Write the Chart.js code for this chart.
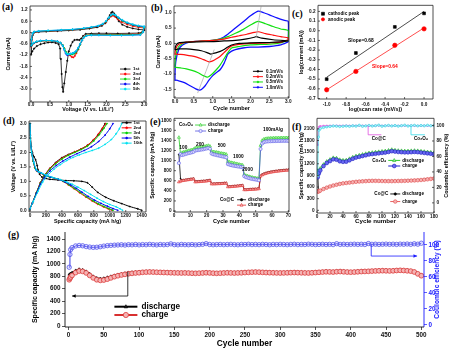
<!DOCTYPE html>
<html><head><meta charset="utf-8">
<script src="https://cdn.jsdelivr.net/npm/chart.js@4.4.1/dist/chart.umd.min.js"></script>
<style>
html,body{margin:0;padding:0;background:#fff;}
#wrap{position:relative;width:457px;height:353px;overflow:hidden;background:#fff;}
.pl{position:absolute;font:bold 9.5px "Liberation Serif",serif;line-height:1;color:#000;}
</style></head><body>
<div id="wrap">
<div class="pl" style="left:2px;top:3px">(a)</div>
<div class="pl" style="left:151px;top:4px">(b)</div>
<div class="pl" style="left:292px;top:10px">(c)</div>
<div class="pl" style="left:3px;top:117px">(d)</div>
<div class="pl" style="left:150px;top:118px">(e)</div>
<div class="pl" style="left:292px;top:123px">(f)</div>
<div class="pl" style="left:8px;top:231px">(g)</div>
</div>
<script>
// ---------------- DATA ----------------
// (a) CV cycles: [voltage, current]
const cvA1=[[3.0,0.12],[2.95,0.02],[2.85,-0.03],[2.6,-0.04],[2.3,-0.05],[2.0,-0.04],[1.8,-0.04],[1.6,-0.05],[1.45,-0.07],[1.38,-0.18],[1.33,-0.32],[1.28,-0.4],[1.22,-0.38],[1.15,-0.4],[1.1,-0.5],[1.05,-0.7],[1.0,-1.0],[0.96,-1.5],[0.92,-2.1],[0.88,-2.7],[0.85,-3.15],[0.83,-2.9],[0.81,-2.2],[0.79,-1.4],[0.77,-0.85],[0.73,-0.62],[0.65,-0.55],[0.55,-0.52],[0.45,-0.53],[0.35,-0.57],[0.25,-0.62],[0.15,-0.72],[0.08,-0.85],[0.03,-1.0],[0.0,-1.15],
[0.01,-0.6],[0.04,-0.15],[0.08,0.0],[0.2,0.03],[0.4,0.05],[0.7,0.08],[1.0,0.11],[1.3,0.15],[1.55,0.21],[1.75,0.28],[1.88,0.36],[1.97,0.5],[2.04,0.72],[2.09,0.92],[2.13,1.06],[2.16,1.1],[2.2,1.02],[2.26,0.82],[2.33,0.6],[2.42,0.42],[2.55,0.3],[2.7,0.22],[2.85,0.17],[3.0,0.14]];
const cvA2=[[3.0,0.22],[2.96,0.02],[2.9,-0.07],[2.7,-0.09],[2.4,-0.1],[2.1,-0.1],[1.8,-0.1],[1.6,-0.11],[1.47,-0.14],[1.4,-0.22],[1.35,-0.38],[1.3,-0.62],[1.25,-0.9],[1.2,-1.1],[1.16,-1.24],[1.12,-1.32],[1.08,-1.3],[1.04,-1.22],[1.0,-1.17],[0.96,-1.14],[0.92,-1.05],[0.88,-0.85],[0.84,-0.68],[0.78,-0.56],[0.7,-0.49],[0.55,-0.45],[0.4,-0.44],[0.25,-0.46],[0.15,-0.5],[0.07,-0.58],[0.02,-0.68],[0.0,-0.75],
[0.01,-0.4],[0.04,-0.08],[0.08,0.02],[0.2,0.05],[0.45,0.08],[0.8,0.11],[1.1,0.14],[1.4,0.2],[1.6,0.26],[1.78,0.33],[1.9,0.42],[1.99,0.55],[2.06,0.72],[2.12,0.85],[2.17,0.9],[2.22,0.85],[2.3,0.7],[2.4,0.56],[2.55,0.43],[2.7,0.34],[2.85,0.28],[3.0,0.24]];
const cvA3=[[3.0,0.26],[2.96,0.02],[2.9,-0.09],[2.7,-0.11],[2.4,-0.12],[2.1,-0.12],[1.8,-0.12],[1.6,-0.12],[1.47,-0.15],[1.4,-0.25],[1.35,-0.42],[1.3,-0.65],[1.25,-0.88],[1.2,-1.04],[1.15,-1.12],[1.1,-1.15],[1.05,-1.16],[1.0,-1.16],[0.96,-1.12],[0.92,-1.02],[0.88,-0.84],[0.84,-0.67],[0.78,-0.55],[0.7,-0.48],[0.55,-0.44],[0.4,-0.43],[0.25,-0.45],[0.15,-0.49],[0.07,-0.56],[0.02,-0.65],[0.0,-0.72],
[0.01,-0.38],[0.04,-0.06],[0.08,0.03],[0.2,0.06],[0.45,0.09],[0.8,0.12],[1.1,0.15],[1.4,0.21],[1.6,0.27],[1.78,0.34],[1.9,0.44],[1.99,0.58],[2.06,0.76],[2.12,0.9],[2.18,0.96],[2.24,0.9],[2.32,0.76],[2.42,0.62],[2.55,0.5],[2.7,0.4],[2.85,0.33],[3.0,0.28]];
const cvA4=[[3.0,0.3],[2.97,0.02],[2.9,-0.12],[2.7,-0.14],[2.4,-0.15],[2.1,-0.15],[1.8,-0.14],[1.6,-0.14],[1.47,-0.17],[1.4,-0.27],[1.35,-0.42],[1.3,-0.62],[1.25,-0.82],[1.2,-0.98],[1.15,-1.06],[1.1,-1.1],[1.05,-1.12],[1.0,-1.16],[0.96,-1.2],[0.92,-1.12],[0.88,-0.92],[0.84,-0.7],[0.78,-0.55],[0.7,-0.47],[0.55,-0.43],[0.4,-0.42],[0.25,-0.44],[0.15,-0.48],[0.07,-0.55],[0.02,-0.63],[0.0,-0.7],
[0.01,-0.36],[0.04,-0.05],[0.08,0.04],[0.2,0.07],[0.45,0.1],[0.8,0.13],[1.1,0.16],[1.4,0.22],[1.6,0.28],[1.78,0.35],[1.9,0.45],[1.99,0.6],[2.06,0.78],[2.12,0.92],[2.18,0.97],[2.24,0.92],[2.32,0.79],[2.42,0.65],[2.55,0.52],[2.7,0.42],[2.85,0.35],[3.0,0.31]];
const cvA5=[[3.0,0.3],[2.97,0.02],[2.9,-0.12],[2.7,-0.14],[2.4,-0.15],[2.1,-0.15],[1.8,-0.14],[1.6,-0.14],[1.47,-0.17],[1.4,-0.26],[1.35,-0.4],[1.3,-0.6],[1.25,-0.8],[1.2,-0.96],[1.15,-1.05],[1.1,-1.1],[1.05,-1.13],[1.0,-1.15],[0.96,-1.15],[0.92,-1.08],[0.88,-0.9],[0.84,-0.7],[0.78,-0.55],[0.7,-0.47],[0.55,-0.43],[0.4,-0.42],[0.25,-0.44],[0.15,-0.47],[0.07,-0.54],[0.02,-0.62],[0.0,-0.68],
[0.01,-0.34],[0.04,-0.04],[0.08,0.05],[0.2,0.08],[0.45,0.11],[0.8,0.14],[1.1,0.17],[1.4,0.23],[1.6,0.29],[1.78,0.36],[1.9,0.46],[1.99,0.61],[2.06,0.79],[2.12,0.93],[2.18,0.98],[2.24,0.93],[2.32,0.8],[2.42,0.67],[2.55,0.54],[2.7,0.44],[2.85,0.37],[3.0,0.33]];
const aXTicks=[0,0.5,1,1.5,2,2.5,3];
const aYTicks=[-3.0,-2.4,-1.8,-1.2,-0.6,0,0.6,1.2];

// (b) CV at scan rates
const cvB01=[[3.0,0.08],[2.8,0.05],[2.5,0.03],[2.0,0.02],[1.7,0.0],[1.5,-0.05],[1.4,-0.12],[1.3,-0.2],[1.2,-0.26],[1.1,-0.3],[1.0,-0.33],[0.95,-0.35],[0.85,-0.3],[0.7,-0.24],[0.5,-0.2],[0.3,-0.18],[0.1,-0.18],[0.03,-0.2],[0.0,-0.2],[0.03,-0.05],[0.1,0.02],[0.3,0.04],[0.6,0.05],[1.0,0.06],[1.3,0.08],[1.6,0.1],[1.9,0.15],[2.1,0.2],[2.15,0.22],[2.3,0.17],[2.6,0.12],[3.0,0.08]];
const cvB02=[[3.0,0.12],[2.8,0.04],[2.5,0.02],[2.0,0.0],[1.7,-0.03],[1.5,-0.08],[1.4,-0.18],[1.3,-0.3],[1.2,-0.42],[1.1,-0.5],[1.0,-0.57],[0.9,-0.6],[0.8,-0.55],[0.7,-0.5],[0.5,-0.42],[0.3,-0.38],[0.15,-0.36],[0.03,-0.35],[0.0,-0.35],[0.03,-0.15],[0.1,-0.03],[0.3,0.04],[0.6,0.07],[1.0,0.1],[1.3,0.14],[1.5,0.2],[1.7,0.25],[1.9,0.3],[2.1,0.36],[2.2,0.38],[2.4,0.32],[2.6,0.27],[2.8,0.22],[3.0,0.18],[3.0,0.12]];
const cvB05=[[3.0,0.1],[2.8,0.02],[2.5,-0.02],[2.0,-0.05],[1.7,-0.1],[1.5,-0.15],[1.4,-0.3],[1.3,-0.5],[1.2,-0.7],[1.1,-0.85],[1.0,-0.98],[0.9,-1.08],[0.85,-1.1],[0.75,-1.05],[0.6,-0.95],[0.45,-0.88],[0.3,-0.83],[0.15,-0.8],[0.03,-0.78],[0.0,-0.78],[0.02,-0.4],[0.1,-0.1],[0.25,0.02],[0.5,0.06],[0.8,0.08],[1.0,0.1],[1.2,0.14],[1.4,0.22],[1.6,0.33],[1.8,0.45],[2.0,0.6],[2.2,0.72],[2.4,0.64],[2.6,0.55],[2.8,0.47],[3.0,0.42],[3.0,0.1]];
const cvB10=[[3.0,0.05],[2.8,-0.05],[2.5,-0.1],[2.2,-0.12],[2.0,-0.12],[1.8,-0.15],[1.6,-0.2],[1.5,-0.25],[1.4,-0.35],[1.35,-0.5],[1.3,-0.65],[1.2,-0.85],[1.1,-0.95],[1.0,-1.05],[0.9,-1.2],[0.8,-1.38],[0.7,-1.5],[0.65,-1.52],[0.55,-1.48],[0.4,-1.38],[0.25,-1.28],[0.1,-1.22],[0.02,-1.2],[0.0,-1.2],[0.02,-0.6],[0.1,-0.2],[0.2,-0.05],[0.4,0.05],[0.7,0.08],[1.0,0.1],[1.2,0.15],[1.4,0.3],[1.6,0.5],[1.8,0.7],[2.0,0.9],[2.2,1.05],[2.35,1.0],[2.5,0.93],[2.7,0.83],[2.9,0.75],[3.0,0.72],[3.0,0.05]];
const guideB1=[[0.6,-1.62],[1.04,-0.2]];
const guideB2=[[2.15,0.18],[2.28,1.2]];
const bXTicks=[0,0.5,1,1.5,2,2.5,3];
const bYTicks=[-1.5,-1.0,-0.5,0,0.5,1.0];

// (c) log-log
const cLogRate=[-1.0,-0.7,-0.3,0.0];
const cCathodic=[-0.50,-0.23,0.04,0.18];
const cAnodic=[-0.61,-0.42,-0.15,0.02];
const cCathFit=[[-1.0,-0.48],[0.0,0.20]];
const cAnodFit=[[-1.0,-0.61],[0.0,0.03]];
const cXTicks=[-1.0,-0.8,-0.6,-0.4,-0.2,0.0];
const cYTicks=[-0.7,-0.6,-0.5,-0.4,-0.3,-0.2,-0.1,0.0,0.1,0.2];

// (d) charge/discharge profiles [capacity, voltage]
const dDis1=[[0,3.0],[5,2.6],[15,2.2],[30,2.0],[50,1.85],[70,1.75],[90,1.55],[100,1.4],[120,1.25],[150,1.15],[200,1.1],[250,1.07],[350,1.05],[450,1.03],[550,1.02],[650,1.0],[720,0.95],[780,0.8],[850,0.62],[950,0.45],[1050,0.33],[1150,0.23],[1250,0.13],[1350,0.05],[1400,0.0]];
const dDis2=[[0,3.0],[5,2.5],[20,2.0],[40,1.7],[60,1.48],[85,1.36],[125,1.3],[175,1.22],[245,1.15],[345,1.08],[415,1.0],[480,0.88],[550,0.75],[620,0.61],[700,0.46],[780,0.32],[850,0.21],[920,0.12],[980,0.05],[1030,0.0]];
const dDis3=[[0,3.0],[5,2.5],[20,2.0],[40,1.7],[65,1.45],[90,1.36],[130,1.3],[180,1.22],[250,1.15],[350,1.08],[420,1.0],[490,0.88],[560,0.75],[630,0.62],[710,0.47],[790,0.33],[860,0.22],[930,0.13],[990,0.06],[1040,0.0]];
const dDis5=[[0,3.0],[5,2.5],[20,2.0],[45,1.68],[75,1.4],[100,1.34],[140,1.29],[190,1.22],[260,1.15],[360,1.07],[440,0.98],[510,0.88],[580,0.76],[650,0.63],[730,0.48],[810,0.35],[890,0.24],[970,0.14],[1040,0.06],[1100,0.0]];
const dDis10=[[0,3.0],[5,2.5],[20,2.0],[50,1.65],[80,1.4],[110,1.33],[150,1.28],[200,1.22],[280,1.14],[380,1.06],[460,0.98],[530,0.9],[600,0.8],[680,0.68],[760,0.55],[840,0.42],[920,0.3],[1000,0.2],[1080,0.12],[1130,0.05],[1160,0.0]];
const dChg1=[[0,0.05],[30,0.25],[80,0.6],[130,0.95],[180,1.2],[250,1.45],[320,1.65],[400,1.82],[480,1.93],[560,2.02],[640,2.12],[720,2.25],[790,2.42],[850,2.6],[900,2.8],[940,3.0]];
const dChg2=[[0,0.05],[30,0.25],[80,0.6],[130,0.95],[180,1.2],[250,1.45],[320,1.63],[400,1.8],[480,1.92],[560,2.02],[640,2.12],[720,2.25],[800,2.45],[860,2.65],[910,2.85],[950,3.0]];
const dChg3=[[0,0.05],[30,0.25],[80,0.6],[130,0.93],[180,1.18],[250,1.42],[320,1.6],[400,1.77],[480,1.9],[560,2.0],[640,2.1],[720,2.22],[800,2.4],[870,2.62],[925,2.83],[965,3.0]];
const dChg5=[[0,0.05],[30,0.25],[80,0.58],[130,0.9],[180,1.13],[250,1.36],[330,1.55],[410,1.7],[500,1.84],[590,1.96],[680,2.07],[770,2.2],[860,2.38],[940,2.6],[1000,2.82],[1040,3.0]];
const dChg10=[[0,0.05],[40,0.3],[100,0.65],[160,0.98],[220,1.2],[300,1.42],[380,1.58],[460,1.72],[540,1.83],[620,1.92],[700,2.0],[780,2.07],[860,2.15],[940,2.28],[1020,2.45],[1080,2.65],[1120,2.82],[1150,3.0]];
const dXTicks=[0,200,400,600,800,1000,1200,1400];
const dYTicks=[0,0.5,1.0,1.5,2.0,2.5,3.0];

// (e) rate capability
const eCycles=[3,4,5,6,7,8,9,10,11,12,13,14,15,16,17,18,19,20,21,22,23,24,25,26,27,28,29,30,31,32,33,34,35,36,37,38,39,40,41,42,43,44,45,46,47,48,49,50,51,52,53,54,55,56,57,58,59,60,61,62,63,64,65,66,67,68,69,70];
const eCo3O4Dis=[1460,1120,1160,1170,1180,1190,1200,1205,1215,1225,
1250,1255,1260,1265,1270,1275,1285,1290,1300,1285,
1185,1175,1170,1165,1160,1150,1145,1140,1135,1125,
980,970,962,955,948,940,932,925,918,910,
725,705,695,685,675,668,660,655,648,640,
1300,1400,1425,1435,1440,1442,1445,1445,1448,1448,
1450,1450,1450,1452,1452,1452,1452,1452];
const eCo3O4Chg=[950,1130,1110,1120,1130,1140,1150,1155,1165,1175,
1200,1205,1210,1215,1220,1225,1235,1240,1250,1235,
1140,1125,1118,1110,1102,1095,1088,1080,1072,1065,
930,918,910,902,895,890,885,880,875,868,
690,672,662,652,643,636,630,625,618,610,
1230,1340,1365,1375,1380,1382,1385,1385,1388,1388,
1390,1390,1390,1392,1392,1392,1392,1392];
const eCoCDis=[1120,640,615,620,625,630,635,640,645,650,
590,593,595,597,600,603,605,610,615,620,
548,548,549,551,553,553,555,558,561,563,
490,492,494,497,500,502,507,510,514,517,
432,432,434,436,438,440,442,444,448,452,
705,730,745,757,767,775,782,788,793,798,
802,806,810,813,816,819,822,825];
const eCoCChg=[575,590,600,605,610,615,620,625,630,635,
575,578,580,582,585,588,590,595,600,605,
535,535,536,538,540,540,542,545,548,550,
478,480,482,485,488,490,495,498,502,505,
420,420,422,424,426,428,430,432,436,440,
690,715,730,742,752,760,767,773,778,783,
787,791,795,798,801,804,807,810];
const eXTicks=[0,10,20,30,40,50,60,70];
const eYTicks=[0,200,400,600,800,1000,1200,1400,1600,1800];

// (f) cycling 180 cycles
const fCycles=[1,2,3,5,10,15,20,25,30,35,40,45,50,55,60,65,70,75,80,85,90,95,100,105,110,115,120,125,130,135,140,145,150,155,160,165,170,175,180];
const fCo3O4Dis=[980,1000,1020,1080, 1180,1260,1310,1355,1345,1305,1290,1295,1330,1370, 1400,1420,1440,1460,1480,1490,1500,1510,1520,1530, 1545,1565,1550,1540,1535,1530,1530,1535,1540,1535, 1525,1515,1505,1495,1485];
const fCo3O4Chg=[850,930,970,1030, 1140,1220,1270,1315,1305,1265,1250,1255,1290,1330, 1360,1380,1400,1420,1440,1450,1460,1470,1480,1490, 1505,1525,1515,1505,1500,1495,1495,1500,1505,1500, 1490,1480,1470,1460,1450];
const fCoCDis=[1050,520,500,520, 560,595,625,650,670,690,705,715,725,735, 745,752,758,763,768,770,770,768,765,763, 762,762,764,766,768,770,774,777,781,786, 792,800,810,820,830];
const fCoCChg=[480,495,490,510, 550,585,615,640,660,680,695,705,715,725, 735,742,748,753,758,760,760,758,755,753, 752,752,754,756,758,760,764,767,771,776, 782,790,800,810,820];
const fCoCCE=[75,95,98,99, 99.5,99.6,99.7,99.5,99.8,99.6,99.7,99.9,99.6,99.8, 99.7,99.9,99.8,99.6,99.9,99.7,99.8,100.0,99.7,99.8, 99.9,99.7,99.8,99.6,99.9,99.8,99.7,99.9,99.8,99.6, 99.8,99.9,99.7,99.8,99.9];
const fCo3O4CE=[35,85,94,96, 97.5,98.2,98.8,99.4,99.1,98.7,99.0,99.3,98.9,99.6, 99.2,100.3,99.0,99.5,100.1,99.3,99.8,100.5,99.1,99.6, 100.2,99.4,100.0,99.2,99.8,100.4,99.3,99.9,100.2,99.5, 100.0,99.6,100.3,99.7,100.1];
const fXTicks=[0,20,40,60,80,100,120,140,160,180];
const fYTicks=[0,300,600,900,1200,1500,1800,2100];
const fY2Ticks=[0,20,40,60,80,100];

// (g) long cycling 500 cycles
const gCycles=[1,2,3,5,10,15,20,25,30,35,40,45,50,55,60,65,70,75,80,85,90,95,100,105,110,115,120,125,130,135,140,145,150,155,160,165,170,175,180,185,190,195,200,205,210,215,220,225,230,235,240,245,250,255,260,265,270,275,280,285,290,295,300,305,310,315,320,325,330,335,340,345,350,355,360,365,370,375,380,385,390,395,400,405,410,415,420,425,430,435,440,445,450,455,460,465,470,475,480,485,490,495,500];
const gDischarge=[830,835,845,860,
895,915,905,880,840,800,775,765,770,
785,800,815,830,840,850,860,865,870,875,
878,880,882,880,878,876,875,872,870,868,
866,865,866,864,862,860,862,865,870,866,
862,860,862,865,868,866,864,866,868,872,
875,878,880,878,875,872,870,868,866,865,
866,868,870,872,870,868,866,865,868,872,
876,880,884,882,880,885,888,884,880,878,
880,884,888,890,892,895,898,900,902,900,
898,900,905,908,905,900,895,880,850,820];
const gCharge=[745,770,790,815,
860,885,880,855,815,775,745,735,740,
755,775,795,810,822,832,842,848,854,858,
865,868,870,868,866,864,862,860,858,856,
855,854,855,853,850,849,851,854,858,855,
851,849,851,854,857,855,853,855,857,861,
864,867,869,867,864,861,859,857,855,854,
855,857,859,861,859,857,855,854,857,861,
865,869,873,871,869,874,877,873,869,867,
869,873,877,879,881,884,887,889,891,889,
887,889,894,897,894,889,884,870,840,810];
const gEfficiency=[72,88,94,96.5,
98.6,99.2,98.8,97.8,97.2,96.8,97.0,97.6,98.4,
99.0,99.3,99.6,99.8,100.1,99.7,100.2,100.0,100.4,99.9,
100.3,100.1,100.6,100.2,99.9,100.4,100.1,100.3,101.2,100.2,
100.0,100.5,100.2,100.1,100.4,100.0,100.3,100.6,101.5,100.4,
100.1,100.3,100.5,100.2,100.4,100.6,100.3,100.1,100.5,100.4,
100.7,100.3,100.5,100.2,100.6,100.4,100.1,100.5,100.3,100.6,
100.4,100.2,100.5,100.7,100.3,100.5,100.4,100.8,100.6,100.3,
100.5,100.7,100.4,100.6,100.3,101.4,100.5,100.7,100.4,100.6,
100.8,100.5,100.7,100.4,101.6,100.6,100.8,100.5,100.7,100.9,
100.6,100.8,100.5,100.9,100.7,101.0,100.6,101.3,100.8,102.0];
const gXTicks=[0,50,100,150,200,250,300,350,400,450,500];
const gYTicks=[0,200,400,600,800,1000,1200,1400];
const gY2Ticks=[0,20,40,60,80,100];

// ---------------- HELPERS ----------------
const F='"Liberation Sans", Arial, sans-serif';
Chart.defaults.font.family=F;
const EX=new WeakMap();
const pr=a=>a.map(p=>({x:p[0],y:p[1]}));
const xy=(xs,ys)=>xs.map((x,i)=>({x:x,y:ys[i]}));
const f1=v=>v.toFixed(1), f0=v=>String(v);

function marker(ctx,st,x,y,r,fill,stroke,lw){
  ctx.save();ctx.beginPath();
  if(st==='rect'){ctx.rect(x-r,y-r,2*r,2*r);}
  else if(st==='triangle'){ctx.moveTo(x,y-r);ctx.lineTo(x+r*0.87,y+r*0.6);ctx.lineTo(x-r*0.87,y+r*0.6);ctx.closePath();}
  else ctx.arc(x,y,r,0,Math.PI*2);
  ctx.fillStyle=fill;ctx.fill();ctx.lineWidth=lw;ctx.strokeStyle=stroke;ctx.stroke();ctx.restore();
}
Chart.register({id:'custom',afterDraw(chart){
  const e=EX.get(chart.canvas); if(!e) return;
  const ctx=chart.ctx, c=chart.chartArea;
  ctx.save();
  if(e.inTicks){ctx.lineWidth=0.7;ctx.strokeStyle='#222';const L=e.inTicks;
    const sx=chart.scales.x, sy=chart.scales.y, s2=chart.scales.y2;
    ctx.beginPath();
    sx.ticks.forEach(t=>{const p=sx.getPixelForValue(t.value);ctx.moveTo(p,c.bottom);ctx.lineTo(p,c.bottom-L);});
    sy.ticks.forEach(t=>{const p=sy.getPixelForValue(t.value);ctx.moveTo(c.left,p);ctx.lineTo(c.left+L,p);});
    if(s2) s2.ticks.forEach(t=>{const p=s2.getPixelForValue(t.value);ctx.moveTo(c.right,p);ctx.lineTo(c.right-L,p);});
    ctx.stroke();}
  if(e.frame){ctx.lineWidth=e.frame.w||0.8;
    const seg=(col,x1,y1,x2,y2)=>{if(!col)return;ctx.strokeStyle=col;ctx.beginPath();ctx.moveTo(x1,y1);ctx.lineTo(x2,y2);ctx.stroke();};
    seg(e.frame.l,c.left,c.top,c.left,c.bottom);seg(e.frame.r,c.right,c.top,c.right,c.bottom);
    seg(e.frame.t,c.left,c.top,c.right,c.top);seg(e.frame.b,c.left,c.bottom,c.right,c.bottom);}
  (e.paths||[]).forEach(p=>{const xs=chart.scales.x, ys=chart.scales[p.ax||'y'];
    const pts=p.p.map(q=>[xs.getPixelForValue(q[0]),ys.getPixelForValue(q[1])]);
    ctx.strokeStyle=p.c;ctx.lineWidth=p.w||0.7;ctx.beginPath();
    pts.forEach((q,i)=>i?ctx.lineTo(q[0],q[1]):ctx.moveTo(q[0],q[1]));ctx.stroke();
    if(p.arrow){const n=pts.length;const x1=pts[n-2][0],y1=pts[n-2][1],x2=pts[n-1][0],y2=pts[n-1][1];
      const ang=Math.atan2(y2-y1,x2-x1),L=p.arrow;ctx.beginPath();ctx.moveTo(x2,y2);
      ctx.lineTo(x2-L*Math.cos(ang-0.45),y2-L*Math.sin(ang-0.45));ctx.lineTo(x2-L*Math.cos(ang+0.45),y2-L*Math.sin(ang+0.45));
      ctx.closePath();ctx.fillStyle=p.c;ctx.fill();}});
  (e.texts||[]).forEach(t=>{const xs=chart.scales.x, ys=chart.scales[t.ax||'y'];
    ctx.font=t.f;ctx.fillStyle=t.c||'#000';ctx.textAlign=t.a||'left';ctx.textBaseline='middle';
    ctx.fillText(t.t,xs.getPixelForValue(t.x),ys.getPixelForValue(t.y));});
  (e.legends||[]).forEach(L=>{const xs=chart.scales.x, ys=chart.scales[L.ax||'y'];
    const x0=xs.getPixelForValue(L.x), y0=ys.getPixelForValue(L.y);
    L.items.forEach((it,i)=>{const d=chart.data.datasets[it.d];const y=y0+i*L.dy;
      if(L.len>0){ctx.strokeStyle=d.borderColor;ctx.lineWidth=it.lw||d.borderWidth||1;ctx.beginPath();ctx.moveTo(x0,y);ctx.lineTo(x0+L.len,y);ctx.stroke();}
      if(it.r) marker(ctx,d.pointStyle||'circle',x0+L.len/2,y,it.r,d.pointBackgroundColor||d.borderColor,d.pointBorderColor||d.borderColor,d.pointBorderWidth||0.8);
      ctx.font=L.font;ctx.fillStyle=it.c||'#000';ctx.textAlign='left';ctx.textBaseline='middle';
      ctx.fillText(it.t,x0+L.len+L.gap,y);});});
  const T=e.titles||{};
  ctx.textAlign='center';ctx.textBaseline='middle';
  [['l',c.left],['r',c.right]].forEach(s=>{const t=T[s[0]];if(!t)return;ctx.save();
    ctx.translate(s[0]==='l'?s[1]-t.off:s[1]+t.off,(c.top+c.bottom)/2);ctx.rotate(-Math.PI/2);
    ctx.font=t.f;ctx.fillStyle=t.c||'#000';ctx.fillText(t.t,0,0);ctx.restore();});
  if(T.b){ctx.font=T.b.f;ctx.fillStyle=T.b.c||'#000';ctx.fillText(T.b.t,(c.left+c.right)/2,c.bottom+T.b.off);}
  ctx.restore();
}});

// lin(min,max,ticks,fmt,fontSize,color,tickLength(0 = none),position,labelPadding)
function lin(min,max,ticks,fmt,fs,col,tl,pos,pad){
  col=col||'#111';
  const o={type:'linear',min:min,max:max,
    afterBuildTicks:function(s){s.ticks=ticks.map(v=>({value:v}));},
    ticks:{autoSkip:false,maxRotation:0,minRotation:0,padding:pad===undefined?0.5:pad,color:col,font:{family:F,size:fs,weight:'bold'},callback:function(v){return fmt(v);}},
    grid:{display:true,drawOnChartArea:false,drawTicks:tl>0,tickLength:tl>0?tl:0,color:col,lineWidth:0.7},
    border:{display:false}};
  if(pos) o.position=pos;
  return o;
}
function D(data,o){return Object.assign({data:data,showLine:true,fill:false,borderWidth:0.8,pointRadius:0,tension:0,pointBorderWidth:0.6},o);}
function make(box,datasets,scales,ex){
  const cv=document.createElement('canvas');
  const w=box.c[2]-box.c[0],h=box.c[3]-box.c[1];
  cv.width=w;cv.height=h;
  cv.style.cssText='position:absolute;left:'+box.c[0]+'px;top:'+box.c[1]+'px;width:'+w+'px;height:'+h+'px;';
  document.getElementById('wrap').appendChild(cv);
  const hasR=!!scales.y2;
  scales.x.position='bottom';
  scales.x.afterFit=function(s){s.height=box.c[3]-box.p[3];};
  scales.y.position='left';
  scales.y.afterFit=function(s){s.width=box.p[0]-box.c[0];};
  if(hasR) scales.y2.afterFit=function(s){s.width=box.c[2]-box.p[2];};
  EX.set(cv,ex||{});
  return new Chart(cv,{type:'scatter',data:{datasets:datasets},options:{responsive:false,animation:false,devicePixelRatio:1,events:[],
    layout:{padding:{left:0,bottom:0,top:box.p[1]-box.c[1],right:hasR?0:box.c[2]-box.p[2]}},
    scales:scales,plugins:{legend:{display:false},tooltip:{enabled:false}}}});
}
const box4=()=>({l:'#222',r:'#222',t:'#222',b:'#222',w:0.8});
const TF='bold 5.4px '+F, KF=4.7;
const X=(a,b,t,f,p)=>lin(a,b,t,f,KF,'#111',0,null,p===undefined?0.8:p);
const Y=(a,b,t,f,p)=>lin(a,b,t,f,KF,'#111',0,null,p===undefined?2.5:p);

// ---------------- (a) ----------------
(function(){
  const cols=['#000','#ff0000','#00d000','#0000f0','#00e0f0'];
  const arr=[cvA1,cvA2,cvA3,cvA4,cvA5];
  const ds=arr.map((a,i)=>D(pr(a),{borderColor:cols[i],pointBackgroundColor:cols[i],pointBorderColor:cols[i],pointRadius:0.7,pointStyle:'circle',order:5-i}));
  make({c:[0,0,152,113],p:[30,6,146,102]},ds,
    {x:X(-0.03,3.05,aXTicks,f1,0.3),y:Y(-3.69,1.41,aYTicks,f1)},
    {frame:box4(),inTicks:2,
     titles:{l:{t:'Current (mA)',off:21.7,f:TF},b:{t:'Voltage (V vs. Li/Li\u207A)',off:8,f:TF}},
     legends:[{x:2.36,y:-1.94,dy:5,len:10.5,gap:2.5,font:'bold 4.4px '+F,
       items:[{d:0,t:'1st',r:1},{d:1,t:'2nd',r:1},{d:2,t:'3rd',r:1},{d:3,t:'4th',r:1},{d:4,t:'5th',r:1}]}]});
})();

// ---------------- (b) ----------------
(function(){
  const ds=[D(pr(cvB01),{borderColor:'#000',borderWidth:1.2,order:1}),
    D(pr(cvB02),{borderColor:'#ff1010',borderWidth:1.2,order:2}),
    D(pr(cvB05),{borderColor:'#10e010',borderWidth:1.2,order:3}),
    D(pr(cvB10),{borderColor:'#1010ff',borderWidth:1.3,order:4}),
    D(pr(guideB1),{borderColor:'#a8a8a8',borderWidth:0.7,order:0}),
    D(pr(guideB2),{borderColor:'#a8a8a8',borderWidth:0.7,order:0})];
  ds.forEach(d=>{d.tension=0.2;});
  make({c:[150,0,300,113],p:[174,6,289,98]},ds,
    {x:X(-0.026,3.02,bXTicks,f1),y:Y(-1.78,1.22,bYTicks,f1)},
    {frame:box4(),inTicks:2,
     titles:{l:{t:'Current (mA)',off:15,f:TF},b:{t:'Cycle number',off:10.3,f:'bold 5.6px '+F}},
     legends:[{x:2.065,y:-0.91,dy:5.33,len:10,gap:3,font:'bold 4.5px '+F,
       items:[{d:0,t:'0.1mV/s',r:0.9,lw:1},{d:1,t:'0.2mV/s',r:0.9,lw:1},{d:2,t:'0.5mV/s',r:0.9,lw:1},{d:3,t:'1.0mV/s',r:0.9,lw:1}]}]});
})();

// ---------------- (c) ----------------
(function(){
  const ds=[D(xy(cLogRate,cCathodic),{showLine:false,pointStyle:'rect',pointRadius:2,pointBackgroundColor:'#000',pointBorderColor:'#000',borderColor:'#000'}),
    D(xy(cLogRate,cAnodic),{showLine:false,pointStyle:'circle',pointRadius:2.2,pointBackgroundColor:'#ff0000',pointBorderColor:'#ff0000',borderColor:'#ff0000'}),
    D(pr(cCathFit),{borderColor:'#000',borderWidth:0.7}),
    D(pr(cAnodFit),{borderColor:'#ff0000',borderWidth:0.7})];
  make({c:[295,0,457,113],p:[318,3,433,99]},ds,
    {x:X(-1.089,0.092,cXTicks,f1,2.5),y:Y(-0.705,0.263,cYTicks,f1)},
    {frame:box4(),inTicks:2,
     titles:{l:{t:'log(current (mA))',off:16.3,f:TF},b:{t:'log(scan rate (mV/s))',off:11,f:TF}},
     texts:[{x:-0.78,y:-0.10,t:'Slope=0.68',f:'bold 4.9px '+F,c:'#000'},{x:-0.534,y:-0.368,t:'Slope=0.64',f:'bold 4.9px '+F,c:'#ff0000'}],
     legends:[{x:-1.038,y:0.176,dy:5.6,len:0,gap:5,font:'bold 4.7px '+F,items:[{d:0,t:'cathodic peak',r:1.5},{d:1,t:'anodic peak',r:1.6}]}]});
})();

// ---------------- (d) ----------------
(function(){
  const cols=['#000','#ff0000','#00d000','#0000f0','#00e0f0'];
  const dis=[dDis1,dDis2,dDis3,dDis5,dDis10], chg=[dChg1,dChg2,dChg3,dChg5,dChg10];
  const ds=[];
  dis.forEach((a,i)=>ds.push(D(pr(a),{borderColor:cols[i],pointBackgroundColor:cols[i],pointBorderColor:cols[i],pointRadius:0.6,borderWidth:1,tension:0.25,order:5-i})));
  chg.forEach((a,i)=>ds.push(D(pr(a),{borderColor:cols[i],pointBackgroundColor:cols[i],pointBorderColor:cols[i],pointRadius:0.6,borderWidth:1,tension:0.25,order:5-i})));
  make({c:[0,113,152,226],p:[29,121,146,212]},ds,
    {x:X(-12.5,1454,dXTicks,f0),y:Y(-0.06,3.09,dYTicks,f1)},
    {frame:box4(),inTicks:2,
     titles:{l:{t:'Voltage (V vs. Li/Li\u207A)',off:15.5,f:TF},b:{t:'Specific capacity (mA h/g)',off:9.5,f:TF}},
     legends:[{x:1149,y:3.03,dy:5.1,len:10,gap:1.8,font:'bold 4.4px '+F,
       items:[{d:0,t:'1st',r:1},{d:1,t:'2nd',r:1},{d:2,t:'3rd',r:1},{d:3,t:'5th',r:1},{d:4,t:'10th',r:1}]}]});
})();

// ---------------- (e) ----------------
(function(){
  const ds=[D(xy(eCycles,eCo3O4Dis),{borderColor:'#22cc22',pointStyle:'triangle',pointRadius:1.7,pointBackgroundColor:'#dcf8d4',pointBorderColor:'#22cc22',order:2}),
    D(xy(eCycles,eCo3O4Chg),{borderColor:'#5555e0',pointStyle:'circle',pointRadius:1.6,pointBackgroundColor:'#e4e4ff',pointBorderColor:'#5a5ae6',order:1}),
    D(xy(eCycles,eCoCDis),{borderColor:'#000',pointStyle:'circle',pointRadius:0.6,pointBackgroundColor:'#000',pointBorderColor:'#000',order:4}),
    D(xy(eCycles,eCoCChg),{borderColor:'#e02828',pointStyle:'triangle',pointRadius:1.7,pointBackgroundColor:'#f8c4c4',pointBorderColor:'#e03030',order:3})];
  make({c:[148,113,300,226],p:[174,115,289,212]},ds,
    {x:X(0,70.4,eXTicks,f0),y:Y(-19,1838,eYTicks,f0)},
    {frame:box4(),inTicks:2,
     titles:{l:{t:'Specific capacity (mA h/g)',off:21.5,f:TF},b:{t:'Cycle number',off:9.3,f:'bold 5.6px '+F}},
     texts:[{x:5.7,y:1258,t:'100',a:'center',f:'bold 4.8px '+F},{x:15.9,y:1322,t:'200',a:'center',f:'bold 4.8px '+F},
       {x:29.2,y:1303,t:'500',a:'center',f:'bold 4.8px '+F},{x:39.4,y:1078,t:'1000',a:'center',f:'bold 4.8px '+F},
       {x:45,y:810,t:'2000',a:'center',f:'bold 4.8px '+F},{x:60.6,y:1609,t:'100mA/g',a:'center',f:'bold 4.8px '+F},
       {x:11.6,y:1705,t:'Co\u2083O\u2084',a:'right',f:'bold 4.6px '+F},{x:36.7,y:224,t:'Co@C',a:'right',f:'bold 4.6px '+F}],
     legends:[{x:12.9,y:1705,dy:6,len:11,gap:2,font:'bold 4.6px '+F,items:[{d:0,t:'discharge',r:1.7},{d:1,t:'charge',r:1.6}]},
       {x:38.6,y:224,dy:5.4,len:9,gap:2,font:'bold 4.6px '+F,items:[{d:2,t:'discharge',r:1.2},{d:3,t:'charge',r:1.7}]}]});
})();

// ---------------- (f) ----------------
(function(){
  const ds=[D(xy(fCycles,fCo3O4Dis),{borderColor:'#2ccc2c',pointStyle:'triangle',pointRadius:1.9,pointBackgroundColor:'#9ee89e',pointBorderColor:'#22bb22',borderWidth:1,order:3}),
    D(xy(fCycles,fCo3O4Chg),{borderColor:'#1c1cc8',pointStyle:'circle',pointRadius:1.9,pointBackgroundColor:'#6868f0',pointBorderColor:'#2020c0',borderWidth:1,order:2}),
    D(xy(fCycles,fCoCDis),{borderColor:'#000',pointStyle:'circle',pointRadius:0.6,pointBackgroundColor:'#000',pointBorderColor:'#000',borderWidth:0.9,order:5}),
    D(xy(fCycles,fCoCChg),{borderColor:'#e03a3a',pointStyle:'circle',pointRadius:1.8,pointBackgroundColor:'#f6b0b0',pointBorderColor:'#e04848',order:4}),
    D(xy(fCycles,fCoCCE),{yAxisID:'y2',borderColor:'#e050e0',pointStyle:'rect',pointRadius:1,pointBackgroundColor:'#f0a0f0',pointBorderColor:'#e050e0',order:1}),
    D(xy(fCycles,fCo3O4CE),{yAxisID:'y2',borderColor:'#30dde8',pointStyle:'circle',pointRadius:1.2,pointBackgroundColor:'#b0f4f8',pointBorderColor:'#30d0e0',order:0})];
  make({c:[296,113,457,226],p:[317,117,434,213]},ds,
    {x:X(0,180,fXTicks,f0),y:Y(-69,2372,fYTicks,f0),y2:lin(-13.1,109.3,fY2Ticks,f0,KF,'#111',0,'right',2.5)},
    {frame:box4(),inTicks:2,
     titles:{l:{t:'Specific capacity (mA h/g)',off:15.3,f:TF},r:{t:'Coulombic efficiency (%)',off:13,f:TF},b:{t:'Cycle number',off:8.2,f:'bold 6.2px '+F}},
     paths:[{ax:'y2',p:[[78.7,99.5],[78.7,88],[99,88]],c:'#e050e0',w:0.8},{ax:'y2',p:[[144.6,99.5],[144.6,88],[166,88]],c:'#30d8e8',w:0.8}],
     texts:[{ax:'y2',x:95,y:83,t:'Co@C',a:'center',f:'bold 4.6px '+F},{ax:'y2',x:160,y:83,t:'Co\u2083O\u2084',a:'center',f:'bold 4.6px '+F},
       {x:106.5,y:1287,t:'Co\u2083O\u2084',a:'right',f:'bold 4.6px '+F},{x:109.6,y:422,t:'Co@C',a:'right',f:'bold 4.6px '+F}],
     legends:[{x:109.6,y:1287,dy:5.6,len:12,gap:2,font:'bold 4.6px '+F,items:[{d:0,t:'discharge',r:1.9},{d:1,t:'charge',r:1.9}]},
       {x:112.7,y:422,dy:7.6,len:10,gap:2,font:'bold 4.6px '+F,items:[{d:2,t:'discharge',r:1.2},{d:3,t:'charge',r:1.8}]}]});
})();

// ---------------- (g) ----------------
(function(){
  const ds=[D(xy(gCycles,gDischarge),{borderColor:'#000',pointStyle:'triangle',pointRadius:1.5,pointBackgroundColor:'#222',pointBorderColor:'#000',borderWidth:1.2,order:2}),
    D(xy(gCycles,gCharge),{borderColor:'#d83030',pointStyle:'circle',pointRadius:2.4,pointBackgroundColor:'#f5b4b4',pointBorderColor:'#dc3a3a',pointBorderWidth:0.8,borderWidth:1,order:1}),
    D(xy(gCycles,gEfficiency),{yAxisID:'y2',borderColor:'#3a3ae8',pointStyle:'circle',pointRadius:2.2,pointBackgroundColor:'rgba(170,170,255,0.35)',pointBorderColor:'#4a4ae8',pointBorderWidth:0.7,borderWidth:1,order:0})];
  make({c:[0,226,457,353],p:[65,232,424,327]},ds,
    {x:lin(-5,503.8,gXTicks,f0,6.3,'#111',3,null,1),y:lin(-16,1514,gYTicks,f0,6.3,'#111',3,null,1.5),y2:lin(-2.5,116,gY2Ticks,f0,6.3,'#1a1aff',3,'right',1.5)},
    {frame:{l:'#111',b:'#111',r:'#1a1aff',w:0.9},
     titles:{l:{t:'Specific capacity (mA h/g)',off:30,f:'bold 7px '+F},r:{t:'Coulombic efficiency (%)',off:13,f:'bold 6.6px '+F,c:'#1a1aff'},b:{t:'Cycle number',off:16.3,f:'bold 8.4px '+F}},
     paths:[{p:[[84,875],[84,483],[5,483]],c:'#000',w:0.8,arrow:4},{ax:'y2',p:[[429,100.5],[429,86],[494,86]],c:'#1a1aff',w:0.8,arrow:4}],
     legends:[{x:65,y:311,dy:8.3,len:23,gap:4,font:'bold 8.2px '+F,items:[{d:0,t:'discharge',r:2,lw:2},{d:1,t:'charge',r:2.6,lw:2}]}]});
})();
</script>
</body></html>
